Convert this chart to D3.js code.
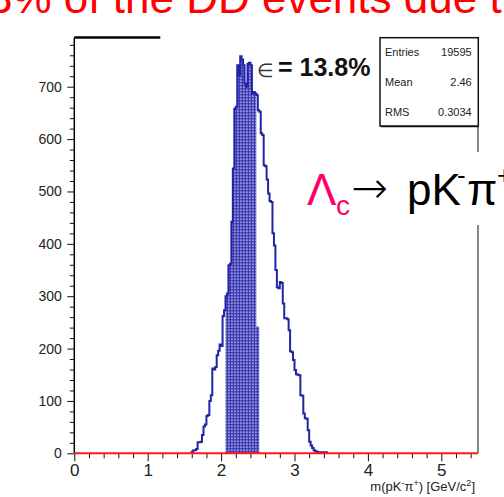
<!DOCTYPE html>
<html>
<head>
<meta charset="utf-8">
<script src="https://cdn.jsdelivr.net/npm/d3@7"></script>
<style>
  body { margin: 0; background: #fff; }
  svg { display: block; font-family: "Liberation Sans", Arial, sans-serif; }
</style>
</head>
<body>
<svg id="canvas" width="504" height="497"></svg>
<script>
// DATA
const binLow = 1.6,
  binWidth = 0.02;

// counts per bin, starting at binLow
const counts = [
  3, 6, 6, 8, 21, 21, 22, 35, 51, 55, 71, 73, 100, 111, 162, 160, 165, 187,
  196, 208, 205, 262, 273, 300, 305, 359, 362, 442, 544, 658, 662, 741, 722,
  758, 752, 741, 706, 700, 744, 746, 741, 687, 690, 687, 684, 655, 652, 611,
  608, 550, 548, 523, 496, 482, 480, 420, 397, 350, 317, 315, 327, 325, 286,
  258, 258, 256, 235, 195, 193, 178, 159, 151, 150, 149, 111, 110, 76, 67, 66,
  44, 22, 15, 10, 6, 4, 3, 2, 2, 2, 2, 2, 2,
];

// selected window (shaded), starting at windowLow
const windowLow = 2.06;
const windowCounts = [
  300, 305, 359, 362, 442, 544, 658, 662, 741, 722, 758, 752, 741, 706, 700,
  744, 746, 741, 687, 690, 687, 242, 242,
];

const xTicks = d3.range(0, 5.41, 0.2);
const yTicks = d3.range(0, 781, 20);

const statLabels = ["Entries", "Mean", "RMS"];
const statValues = ["19595", "2.46", "0.3034"];

const titleText = "3% of the DD events due t";
const effText = "= 13.8%";

// CANVAS SETUP
const canvas = d3.select("#canvas");
const margin = { top: 37.5, right: 26, bottom: 43.7, left: 74.3 },
  width = 504 - margin.left - margin.right,
  height = 497 - margin.top - margin.bottom;

const x = d3.scaleLinear().domain([0, 5.5]).range([0, width]);
const y = d3.scaleLinear().domain([0, 794]).range([height, 0]);

const g = canvas
  .append("g")
  .attr("transform", `translate(${margin.left},${margin.top})`);

const blue = "#2323a6";

// fill pattern like ROOT hatch style
const defs = canvas.append("defs");
const pat = defs
  .append("pattern")
  .attr("id", "dots")
  .attr("width", 3)
  .attr("height", 3)
  .attr("patternUnits", "userSpaceOnUse");
pat.append("rect").attr("width", 3).attr("height", 3).attr("fill", "#2e2eae");
pat.append("rect").attr("x", 1).attr("y", 1).attr("width", 1.4).attr("height", 1.4).attr("fill", "#fff");

// TITLE (slide text, clipped at top)
canvas
  .append("text")
  .attr("x", -12)
  .attr("y", 13)
  .attr("font-size", 44)
  .attr("fill", "#ff0000")
  .text(titleText);

// HISTOGRAM
const stepPoints = (low, arr) => {
  const pts = [[low, 0]];
  arr.forEach((c, i) => pts.push([low + i * binWidth, c]));
  pts.push([low + arr.length * binWidth, arr[arr.length - 1]]);
  pts.push([low + arr.length * binWidth, 0]);
  return pts;
};

const line = d3
  .line()
  .x((d) => x(d[0]))
  .y((d) => y(d[1]))
  .curve(d3.curveStepAfter);

g.append("path")
  .attr("d", line(stepPoints(windowLow, windowCounts)))
  .attr("fill", "url(#dots)")
  .attr("stroke", "none");

g.append("path")
  .attr("d", line(stepPoints(binLow, counts)))
  .attr("fill", "none")
  .attr("stroke", blue)
  .attr("stroke-width", 2);

// AXES
const yAxis = d3
  .axisLeft(y)
  .tickValues(yTicks)
  .tickSize(4.5)
  .tickFormat((d) => (d % 100 === 0 ? d : ""));
const gy = g.append("g").call(yAxis);
gy.select(".domain").remove();
gy.selectAll(".tick line")
  .attr("x2", (d) => (d % 100 === 0 ? -7 : -4.5))
  .attr("stroke", "#111");
gy.selectAll(".tick text")
  .attr("x", -12.5)
  .attr("font-size", 14)
  .attr("font-family", "Liberation Sans, Arial, sans-serif")
  .attr("fill", "#222");

const xAxis = d3
  .axisBottom(x)
  .tickValues(xTicks)
  .tickSize(5)
  .tickFormat((d) => (Math.abs(d - Math.round(d)) < 1e-6 ? Math.round(d) : ""));
const gx = g.append("g").attr("transform", `translate(0,${height})`).call(xAxis);
gx.select(".domain").remove();
gx.selectAll(".tick line")
  .attr("y2", (d) => (Math.abs(d - Math.round(d)) < 1e-6 ? 8 : 5))
  .attr("stroke", "#111");
gx.selectAll(".tick text")
  .attr("y", 11)
  .attr("font-size", 17)
  .attr("font-family", "Liberation Sans, Arial, sans-serif")
  .attr("fill", "#222");

// FRAME
g.append("line")
  .attr("x1", 0).attr("x2", 0)
  .attr("y1", 0).attr("y2", height)
  .attr("stroke", "#000").attr("stroke-width", 1.5);
g.append("line")
  .attr("x1", 0).attr("x2", 86)
  .attr("y1", 0).attr("y2", 0)
  .attr("stroke", "#000").attr("stroke-width", 2.5);
g.append("line")
  .attr("x1", width).attr("x2", width)
  .attr("y1", 88).attr("y2", height)
  .attr("stroke", "#333").attr("stroke-width", 1.2);

// zero line
g.append("line")
  .attr("x1", x(0)).attr("x2", x(5.5))
  .attr("y1", y(0)).attr("y2", y(0))
  .attr("stroke", "#ff1a1a").attr("stroke-width", 2);

// x title
canvas
  .append("text")
  .attr("x", 475)
  .attr("y", 491)
  .attr("text-anchor", "end")
  .attr("font-size", 13)
  .attr("fill", "#222")
  .call((t) => {
    t.append("tspan").text("m(pK");
    t.append("tspan").attr("dy", -5).attr("font-size", 9).text("-");
    t.append("tspan").attr("dy", 5).text("π");
    t.append("tspan").attr("dy", -5).attr("font-size", 9).text("+");
    t.append("tspan").attr("dy", 5).text(") [GeV/c");
    t.append("tspan").attr("dy", -5).attr("font-size", 9).text("2");
    t.append("tspan").attr("dy", 5).text("]");
  });

// STATS BOX
const sb = canvas.append("g").attr("transform", "translate(380,37.7)");
sb.append("rect")
  .attr("width", 98.3)
  .attr("height", 88.3)
  .attr("fill", "#fff")
  .attr("stroke", "#111")
  .attr("stroke-width", 1.5);
sb.append("line")
  .attr("x1", 1).attr("x2", 98.3)
  .attr("y1", 89).attr("y2", 89)
  .attr("stroke", "#111").attr("stroke-width", 1.2);
statLabels.forEach((s, i) => {
  sb.append("text")
    .attr("x", 5)
    .attr("y", 18 + i * 30)
    .attr("font-size", 11)
    .attr("fill", "#222")
    .text(s);
  sb.append("text")
    .attr("x", 91.7)
    .attr("y", 18 + i * 30)
    .attr("text-anchor", "end")
    .attr("font-size", 11)
    .attr("fill", "#222")
    .text(statValues[i]);
});

// EFFICIENCY LABEL
canvas
  .append("text")
  .attr("x", 257)
  .attr("y", 77)
  .attr("font-size", 19)
  .attr("font-family", "DejaVu Sans, sans-serif")
  .attr("fill", "#333")
  .text("∈");
canvas
  .append("text")
  .attr("x", 278)
  .attr("y", 76)
  .attr("font-size", 25)
  .attr("font-weight", "bold")
  .attr("fill", "#111")
  .text(effText);

// DECAY LABEL
canvas
  .append("rect")
  .attr("x", 300)
  .attr("y", 152)
  .attr("width", 204)
  .attr("height", 73)
  .attr("fill", "#fff");
const dl = canvas.append("g").attr("font-family", "Liberation Sans, Arial, sans-serif");
dl.append("text").attr("x", 307).attr("y", 205).attr("font-size", 44).attr("fill", "#ff0066").text("Λ");
dl.append("text").attr("x", 336).attr("y", 215).attr("font-size", 28).attr("fill", "#ff0066").text("c");
dl.append("text").attr("x", 351).attr("y", 203).attr("font-size", 44)
  .attr("font-family", "DejaVu Sans, sans-serif").attr("font-weight", 200).attr("fill", "#000").text("→");
dl.append("text").attr("x", 407).attr("y", 205).attr("font-size", 44).attr("fill", "#000").text("pK");
dl.append("text").attr("x", 457).attr("y", 184).attr("font-size", 26).attr("fill", "#000").text("-");
dl.append("text").attr("x", 467).attr("y", 205).attr("font-size", 44).attr("fill", "#000").text("π");
dl.append("text").attr("x", 497).attr("y", 184).attr("font-size", 26).attr("fill", "#000").text("+");
</script>
</body>
</html>
